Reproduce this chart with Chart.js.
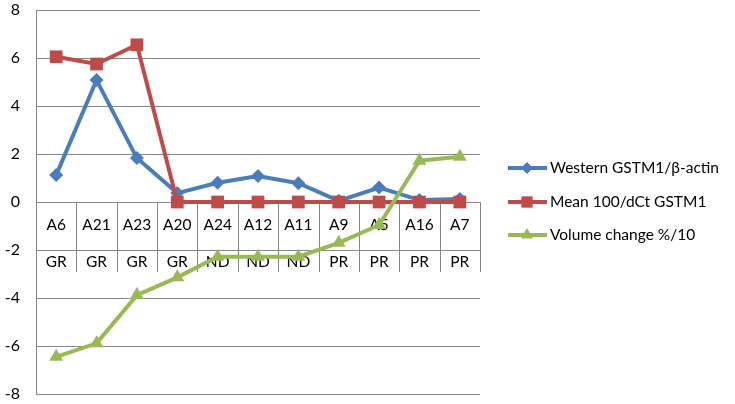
<!DOCTYPE html>
<html>
<head>
<meta charset="utf-8">
<script src="https://cdn.jsdelivr.net/npm/chart.js@4"></script>
<style>
  html, body { margin: 0; padding: 0; background: #fff; }
  #wrap { width: 735px; height: 404px; }
</style>
</head>
<body>
<div id="wrap"><canvas id="chart" width="735" height="404"></canvas></div>
<script>
const categories = ['A6', 'A21', 'A23', 'A20', 'A24', 'A12', 'A11', 'A9', 'A5', 'A16', 'A7'];
const groups = ['GR', 'GR', 'GR', 'GR', 'ND', 'ND', 'ND', 'PR', 'PR', 'PR', 'PR'];
const western = [1.12, 5.08, 1.83, 0.37, 0.8, 1.08, 0.78, 0.05, 0.6, 0.08, 0.12];
const meanDct = [6.05, 5.75, 6.55, 0, 0, 0, 0, 0, 0, 0, 0];
const volume = [-6.45, -5.89, -3.88, -3.14, -2.28, -2.28, -2.28, -1.7, -0.96, 1.72, 1.89];
const yTicks = [-8, -6, -4, -2, 0, 2, 4, 6, 8];

const FONT = 'Lato, "Open Sans", sans-serif';
const GRID = '#868686';

const series = [
  { label: 'Western GSTM1/β-actin', data: western, color: '#4A7EBB', style: 'rectRot', radius: 7, order: 2 },
  { label: 'Mean 100/dCt GSTM1', data: meanDct, color: '#BE4B48', style: 'rect', radius: 9, order: 1 },
  { label: 'Volume change %/10', data: volume, color: '#98B954', style: 'triangle', radius: 8, order: 0 },
];

// multi-level category labels drawn at the y = 0 line, like Excel does
const categoryAxis = {
  id: 'categoryAxis',
  beforeDatasetsDraw(chart) {
    const { ctx, chartArea, scales: { x, y } } = chart;
    const y0 = y.getPixelForValue(0);
    const w = (chartArea.right - chartArea.left) / categories.length;
    ctx.save();
    ctx.strokeStyle = GRID;
    ctx.lineWidth = 1;
    ctx.beginPath();
    for (let i = 0; i <= categories.length; i++) {
      const px = Math.round(chartArea.left + i * w) + 0.5;
      ctx.moveTo(px, y0);
      ctx.lineTo(px, y0 + 70);
    }
    ctx.stroke();

    ctx.fillStyle = '#000';
    ctx.font = '15.5px ' + FONT;
    ctx.textAlign = 'center';
    ctx.textBaseline = 'middle';
    categories.forEach((c, i) => {
      const px = x.getPixelForValue(i);
      ctx.fillText(c, px, y0 + 23);
      ctx.fillText(groups[i], px, y0 + 60);
    });
    ctx.restore();
  }
};

const legendBox = {
  id: 'legendBox',
  afterDraw(chart) {
    const { ctx } = chart;
    const rows = [168, 202, 235];
    ctx.save();
    series.forEach((s, i) => {
      const ly = rows[i];
      ctx.strokeStyle = s.color;
      ctx.lineWidth = 4;
      ctx.beginPath();
      ctx.moveTo(508, ly);
      ctx.lineTo(547, ly);
      ctx.stroke();
      ctx.fillStyle = s.color;
      Chart.helpers.drawPoint(ctx, { pointStyle: s.style, radius: s.radius - 1, borderWidth: 0 }, 527, ly);
      ctx.fillStyle = '#000';
      ctx.font = '15.5px ' + FONT;
      ctx.textAlign = 'left';
      ctx.textBaseline = 'middle';
      ctx.fillText(s.label, 550, ly);
    });
    ctx.restore();
  }
};

new Chart(document.getElementById('chart'), {
  type: 'line',
  data: {
    labels: categories,
    datasets: series.map(s => ({
      label: s.label,
      data: s.data,
      borderColor: s.color,
      backgroundColor: s.color,
      borderWidth: 4,
      pointStyle: s.style,
      pointRadius: s.radius,
      pointBorderWidth: 0,
      tension: 0,
      order: s.order,
    })),
  },
  options: {
    responsive: false,
    animation: false,
    layout: { padding: { top: 10, right: 255, bottom: 10, left: 0 } },
    plugins: { legend: { display: false }, tooltip: { enabled: false } },
    scales: {
      x: { display: false, offset: true },
      y: {
        min: -8, max: 8,
        afterFit: s => { s.width = 36; s.paddingTop = 0; s.paddingBottom = 0; },
        afterBuildTicks: s => { s.ticks = yTicks.map(v => ({ value: v })); },
        border: { color: GRID, width: 1 },
        grid: { color: GRID, drawTicks: false },
        ticks: { color: '#000', font: { size: 16, family: FONT }, padding: 16 },
      },
    },
  },
  plugins: [categoryAxis, legendBox],
});
</script>
</body>
</html>
